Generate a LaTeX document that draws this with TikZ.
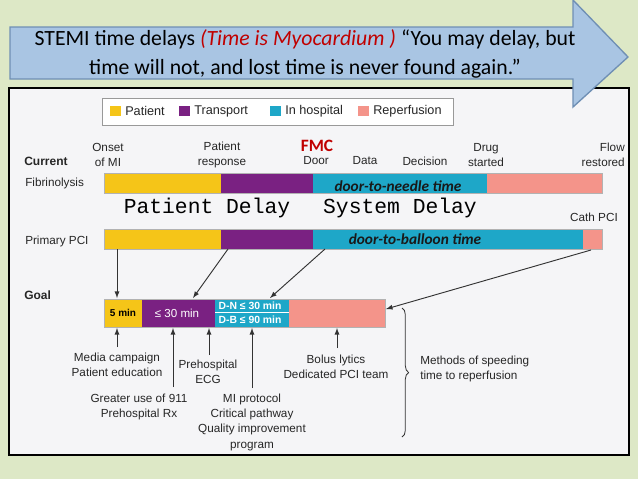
\documentclass[tikz,border=0pt]{standalone}
\usepackage{fontspec}
\setmainfont{Liberation Sans}
\newfontfamily\titlefont{Carlito}
\newfontfamily\delayfont{Liberation Mono}
\usetikzlibrary{decorations.pathreplacing}
\definecolor{bg}{HTML}{DDE8C6}
\definecolor{arrowblue}{HTML}{A9C5E3}
\definecolor{arrowedge}{HTML}{6F8FB4}
\definecolor{pyel}{HTML}{F5C518}
\definecolor{ppur}{HTML}{7A2182}
\definecolor{pcyan}{HTML}{1EA7C8}
\definecolor{ppink}{HTML}{F4948A}
\definecolor{panel}{HTML}{F5F5F7}
\definecolor{fmcred}{HTML}{C00000}
\definecolor{titlered}{HTML}{C00000}
\begin{document}
\begin{tikzpicture}[x=0.75pt,y=-0.75pt,
  lbl/.style={font=\fontsize{8.8}{11.5}\selectfont,text=black!85,align=center,inner sep=0pt},
  seg/.style={draw=black!30,line width=0.3pt},
  ptr/.style={-latex,line width=0.7pt,black!80},
  bartxt/.style={font=\titlefont\bfseries\itshape\fontsize{11.5}{12}\selectfont,text=black!90,inner sep=0pt},
  goaltxt/.style={font=\bfseries\fontsize{7.8}{8}\selectfont,text=white,inner sep=0pt}]
\useasboundingbox (0,0) rectangle (638,479);
\fill[bg] (0,0) rectangle (638,479);
% panel
\draw[fill=panel,line width=1.6pt] (9,88) rectangle (629,455);
% title arrow
\draw[fill=arrowblue,draw=arrowedge,line width=1pt] (10,27) -- (573,27) -- (573,0) -- (628,57) -- (573,107) -- (573,79) -- (10,79) -- cycle;
\node[font=\titlefont\fontsize{16.3}{19}\selectfont,align=center] (title) at (305,54)
 {STEMI time delays {\color{titlered}\itshape(Time is Myocardium )} “You may delay, but\\[3pt]time will not, and lost time is never found again.”};
% legend
\draw[fill=white,draw=black!40,line width=0.4pt] (102,98) rectangle (453,125);
\foreach \x/\c/\t in {110/pyel/Patient,179/ppur/Transport,270/pcyan/In hospital,358/ppink/Reperfusion}{
  \fill[\c] (\x,106) rectangle (\x+11,116);
  \node[lbl,anchor=west,font=\fontsize{9.5}{10}\selectfont] at (\x+15,111) {\t};}
% labels
\node[lbl,font=\bfseries\fontsize{9}{10}\selectfont,anchor=west] (cur) at (24,161) {Current};
\node[lbl] (onset) at (108,155) {Onset\\of MI};
\node[lbl] (presp) at (222,155) {Patient\\response};
\node[lbl,font=\titlefont\bfseries\fontsize{13}{14}\selectfont,text=fmcred] (fmc) at (317,146) {FMC};
\node[lbl] (door) at (316,161) {Door};
\node[lbl] (data) at (365,161) {Data};
\node[lbl] (dec) at (425,161) {Decision};
\node[lbl] (drug) at (486,155) {Drug\\started};
\node[lbl,align=right,anchor=east] (flow) at (625,155) {Flow\\restored};
\node[lbl,anchor=west] (fib) at (25,183) {Fibrinolysis};
\node[lbl,anchor=west] (ppci) at (25,241) {Primary PCI};
\node[lbl] (cath) at (594,217) {Cath PCI};
\node[lbl,font=\bfseries\fontsize{9}{10}\selectfont,anchor=west] (goal) at (24,295) {Goal};
% bars
\fill[pyel] (104,173) rectangle (221,193);
\fill[ppur] (221,173) rectangle (313,193);
\fill[pcyan] (313,173) rectangle (487,193);
\fill[ppink] (487,173) rectangle (602,193);
\draw[seg] (104,173) rectangle (602,193);
\node[bartxt] (dtn) at (398,186) {door-to-needle time};
\node[font=\delayfont\fontsize{16}{17}\selectfont,inner sep=0pt] (pd) at (207,208) {Patient Delay};
\node[font=\delayfont\fontsize{16}{17}\selectfont,inner sep=0pt] (sd) at (400,208) {System Delay};
\fill[pyel] (104,229) rectangle (221,249);
\fill[ppur] (221,229) rectangle (313,249);
\fill[pcyan] (313,229) rectangle (583,249);
\fill[ppink] (583,229) rectangle (602,249);
\draw[seg] (104,229) rectangle (602,249);
\node[bartxt] (dtb) at (415,239) {door-to-balloon time};
% goal bar
\fill[pyel] (104,299) rectangle (142,327);
\fill[ppur] (142,299) rectangle (215,327);
\fill[pcyan] (215,299) rectangle (289,327);
\fill[ppink] (289,299) rectangle (385,327);
\draw[seg] (104,299) rectangle (385,327);
\draw[white,line width=0.5pt] (215,312.5) -- (289,312.5);
\node[font=\bfseries\fontsize{7.5}{8}\selectfont,inner sep=0pt] (g5) at (123,313) {5 min};
\node[goaltxt,font=\fontsize{8.7}{9}\selectfont] (g30) at (177,313) {≤ 30 min};
\node[goaltxt] (gdn) at (250,306) {D-N ≤ 30 min};
\node[goaltxt] (gdb) at (250,319.5) {D-B ≤ 90 min};
% arrows from PCI bar
\coordinate (a1) at (117,249); \coordinate (b1) at (117,298);
\coordinate (a2) at (228,249); \coordinate (b2) at (193,298);
\coordinate (a3) at (325,249); \coordinate (b3) at (270,298);
\coordinate (a4) at (591,250); \coordinate (b4) at (386,309);
\foreach \i in {1,...,4}{\draw[ptr] (a\i) -- (b\i);}
% bottom texts
\node[lbl] (media) at (117,365) {Media campaign\\Patient education};
\node[lbl] (ecg) at (208,372) {Prehospital\\ECG};
\node[lbl] (g911) at (139,407) {Greater use of 911\\Prehospital Rx};
\node[lbl] (mip) at (252,422) {MI protocol\\Critical pathway\\Quality improvement\\program};
\node[lbl] (bolus) at (336,367) {Bolus lytics\\Dedicated PCI team};
\node[lbl,align=left,anchor=west] (meth) at (420,369) {Methods of speeding\\time to reperfusion};
\draw[ptr] (117,347) -- (117,328);
\draw[ptr] (173,387) -- (173,328);
\draw[ptr] (209,355) -- (209,328);
\draw[ptr] (252,388) -- (252,328);
\draw[ptr] (337,348) -- (337,328);
\draw[line width=0.6pt,black!80,decorate,decoration={brace,amplitude=5pt}] (402,308) -- (402,437);
\end{tikzpicture}
\end{document}
